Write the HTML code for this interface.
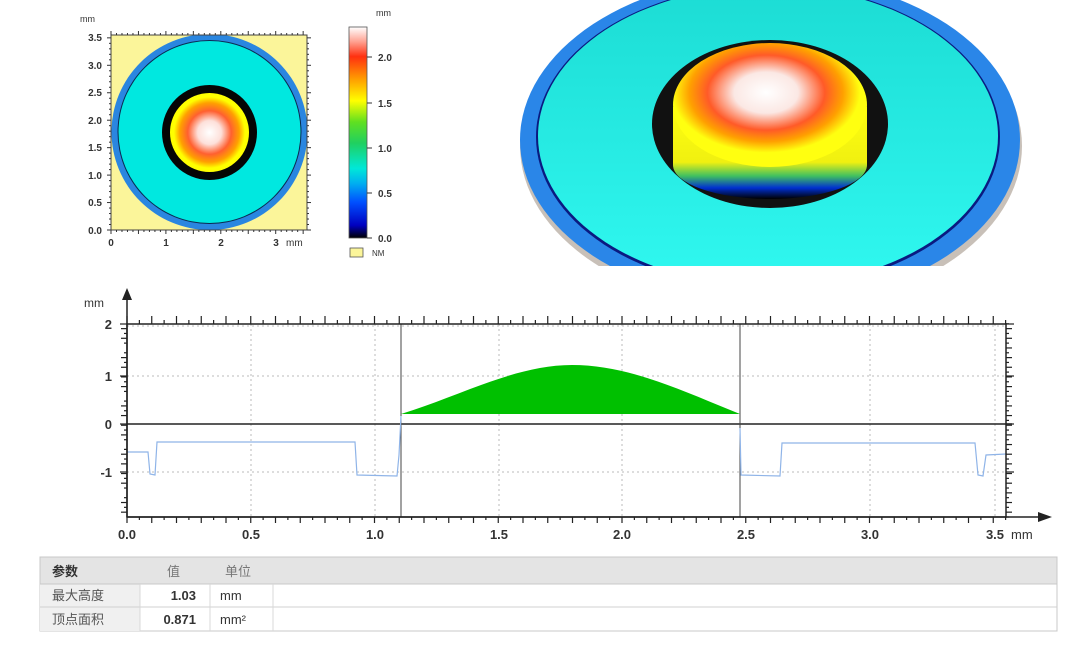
<!DOCTYPE html>
<html><head><meta charset="utf-8"><style>
html,body{margin:0;padding:0;background:#fff;}
body{width:1080px;height:646px;overflow:hidden;position:relative;font-family:"Liberation Sans","Noto Sans CJK SC",sans-serif;}
svg{position:absolute;left:0;top:0;}
</style></head><body>
<svg id="s" width="1080" height="646" xmlns="http://www.w3.org/2000/svg" font-family="Liberation Sans, Noto Sans CJK SC, sans-serif">
<defs>
<linearGradient id="cb" x1="0" y1="1" x2="0" y2="0">
<stop offset="0" stop-color="#000"/>
<stop offset="0.06" stop-color="#0000c0"/>
<stop offset="0.17" stop-color="#0050ff"/>
<stop offset="0.26" stop-color="#00b0f0"/>
<stop offset="0.33" stop-color="#00e8d8"/>
<stop offset="0.45" stop-color="#20d060"/>
<stop offset="0.55" stop-color="#60e020"/>
<stop offset="0.65" stop-color="#ffff00"/>
<stop offset="0.75" stop-color="#ffa000"/>
<stop offset="0.86" stop-color="#ff3010"/>
<stop offset="0.93" stop-color="#ffa090"/>
<stop offset="1" stop-color="#ffffff"/>
</linearGradient>
<radialGradient id="dm" cx="0.5" cy="0.5" r="0.5">
<stop offset="0" stop-color="#fff"/>
<stop offset="0.3" stop-color="#fde0da"/>
<stop offset="0.55" stop-color="#ff6030"/>
<stop offset="0.75" stop-color="#ffa000"/>
<stop offset="0.9" stop-color="#ffff00"/>
<stop offset="1" stop-color="#ffff00"/>
</radialGradient>
<radialGradient id="dm3" cx="0.48" cy="0.4" r="0.55">
<stop offset="0" stop-color="#fff"/>
<stop offset="0.3" stop-color="#fbe8e4"/>
<stop offset="0.55" stop-color="#ff5a28"/>
<stop offset="0.72" stop-color="#ffa000"/>
<stop offset="0.88" stop-color="#ffff10"/>
<stop offset="1" stop-color="#ffff10"/>
</radialGradient>
<linearGradient id="wall" x1="0" y1="0" x2="0" y2="1">
<stop offset="0" stop-color="#ffff10"/>
<stop offset="0.6" stop-color="#f0f010"/>
<stop offset="0.75" stop-color="#40c060"/>
<stop offset="0.88" stop-color="#0030d0"/>
<stop offset="1" stop-color="#000"/>
</linearGradient>
<linearGradient id="cy" x1="0" y1="0" x2="0" y2="1">
<stop offset="0" stop-color="#1cdcd4"/>
<stop offset="1" stop-color="#30f8f0"/>
</linearGradient>
<clipPath id="c3"><rect x="510" y="0" width="540" height="266"/></clipPath>
<clipPath id="cm"><rect x="111" y="35" width="196" height="195"/></clipPath>
</defs>

<rect x="111" y="35" width="196" height="195" fill="#fbf59a"/>
<g clip-path="url(#cm)">
<circle cx="209.5" cy="132" r="98" fill="#2a86e0"/>
<circle cx="209.5" cy="132" r="92" fill="#0a2a50"/>
<circle cx="209.5" cy="132" r="91" fill="#00e8e0"/>
<circle cx="209.5" cy="132.5" r="47.5" fill="#050505"/>
<circle cx="209.5" cy="132.5" r="39.5" fill="url(#dm)"/>
</g>
<rect x="111" y="35" width="196" height="195" fill="none" stroke="#444" stroke-width="1"/>
<g id="mapticks" stroke="#333" stroke-width="1"></g>
<g font-size="10" font-weight="bold" fill="#333">
<text x="80" y="22" font-size="9" font-weight="normal">mm</text>
<text x="102" y="41" text-anchor="end">3.5</text>
<text x="102" y="69" text-anchor="end">3.0</text>
<text x="102" y="96" text-anchor="end">2.5</text>
<text x="102" y="124" text-anchor="end">2.0</text>
<text x="102" y="151" text-anchor="end">1.5</text>
<text x="102" y="179" text-anchor="end">1.0</text>
<text x="102" y="206" text-anchor="end">0.5</text>
<text x="102" y="234" text-anchor="end">0.0</text>
<text x="111" y="246" text-anchor="middle">0</text>
<text x="166" y="246" text-anchor="middle">1</text>
<text x="221" y="246" text-anchor="middle">2</text>
<text x="276" y="246" text-anchor="middle">3</text>
<text x="286" y="246" font-weight="normal">mm</text>
</g>
<rect x="349" y="27" width="18" height="211" fill="url(#cb)" stroke="#555" stroke-width="0.8"/>
<g font-size="10" font-weight="bold" fill="#333">
<text x="376" y="16" font-size="9" font-weight="normal">mm</text>
<text x="378" y="61">2.0</text>
<text x="378" y="107">1.5</text>
<text x="378" y="152">1.0</text>
<text x="378" y="197">0.5</text>
<text x="378" y="242">0.0</text>
</g>
<g stroke="#333"><line x1="367" y1="57" x2="372" y2="57"/><line x1="367" y1="103" x2="372" y2="103"/><line x1="367" y1="148" x2="372" y2="148"/><line x1="367" y1="193" x2="372" y2="193"/><line x1="367" y1="238" x2="372" y2="238"/></g>
<rect x="350" y="248" width="13" height="9" fill="#fbf59a" stroke="#555" stroke-width="0.8"/>
<text x="372" y="256" font-size="8" fill="#333">NM</text>

<g clip-path="url(#c3)">
<ellipse cx="771" cy="146" rx="251" ry="165" fill="#c8c0b8"/>
<ellipse cx="770" cy="140" rx="250" ry="164" fill="#2a86e8"/>
<ellipse cx="768" cy="137" rx="232" ry="152" fill="#0a1a80"/>
<ellipse cx="768" cy="136" rx="230" ry="150" fill="url(#cy)"/>
<ellipse cx="770" cy="124" rx="118" ry="84" fill="#111"/>
<path d="M673,107 L673,165 A97,34 0 0 0 867,165 L867,107 Z" fill="url(#wall)"/>
<ellipse cx="770" cy="105" rx="97" ry="62" fill="url(#dm3)"/>
</g>

<g id="grid" stroke="#bbb" stroke-width="1" stroke-dasharray="2,3"></g>
<path d="M401,414 C460,396 515,365 572,365 C630,365 685,392 740,414 Z" fill="#00c000"/>
<line x1="127" y1="424" x2="1012" y2="424" stroke="#222" stroke-width="1.5"/>
<line x1="401" y1="324" x2="401" y2="517" stroke="#444" stroke-width="1"/>
<line x1="740" y1="324" x2="740" y2="517" stroke="#444" stroke-width="1"/>
<polyline fill="none" stroke="#8fb4e8" stroke-width="1.2" points="127,452 148,452 150,474 155,475 157,442 355,442 357,475 397,476 399,455 401,416"/>
<polyline fill="none" stroke="#8fb4e8" stroke-width="1.2" points="740,428 741,475 780,476 782,443 975,443 978,475 983,476 986,455 1006,454"/>
<rect x="127" y="324" width="879" height="193" fill="none" stroke="#222" stroke-width="1.5"/>
<g id="pticks" stroke="#222" stroke-width="1.2"></g>
<line x1="127" y1="517" x2="127" y2="292" stroke="#222" stroke-width="1.5"/>
<path d="M122,300 L127,288 L132,300 Z" fill="#222"/>
<line x1="127" y1="517" x2="1045" y2="517" stroke="#222" stroke-width="1.5"/>
<path d="M1038,512 L1052,517 L1038,522 Z" fill="#222"/>
<g font-size="13" font-weight="bold" fill="#333">
<text x="84" y="307" font-size="12" font-weight="normal">mm</text>
<text x="112" y="329" text-anchor="end">2</text>
<text x="112" y="381" text-anchor="end">1</text>
<text x="112" y="429" text-anchor="end">0</text>
<text x="112" y="477" text-anchor="end">-1</text>
<text x="127" y="539" text-anchor="middle">0.0</text>
<text x="251" y="539" text-anchor="middle">0.5</text>
<text x="375" y="539" text-anchor="middle">1.0</text>
<text x="499" y="539" text-anchor="middle">1.5</text>
<text x="622" y="539" text-anchor="middle">2.0</text>
<text x="746" y="539" text-anchor="middle">2.5</text>
<text x="870" y="539" text-anchor="middle">3.0</text>
<text x="995" y="539" text-anchor="middle">3.5</text>
<text x="1011" y="539" font-weight="normal">mm</text>
</g>

<rect x="40" y="557" width="1017" height="74" fill="#fff" stroke="#c8c8c8"/>
<rect x="40" y="557" width="1017" height="27" fill="#e4e4e4" stroke="#c8c8c8"/>
<rect x="40" y="584" width="100" height="47" fill="#f0f0f0"/>
<line x1="40" y1="607" x2="1057" y2="607" stroke="#d0d0d0"/>
<line x1="40" y1="584" x2="1057" y2="584" stroke="#c8c8c8"/>
<line x1="140" y1="584" x2="140" y2="631" stroke="#d8d8d8"/>
<line x1="210" y1="584" x2="210" y2="631" stroke="#d8d8d8"/>
<line x1="273" y1="584" x2="273" y2="631" stroke="#d8d8d8"/>
<g font-size="13" fill="#555">
<text x="52" y="576" font-weight="bold" fill="#333">参数</text>
<text x="167" y="576" fill="#777">值</text>
<text x="225" y="576" fill="#777">单位</text>
<text x="52" y="600">最大高度</text>
<text x="52" y="624">顶点面积</text>
<text x="196" y="600" text-anchor="end" font-weight="bold" fill="#333">1.03</text>
<text x="196" y="624" text-anchor="end" font-weight="bold" fill="#333">0.871</text>
<text x="220" y="600" fill="#333">mm</text>
<text x="220" y="624" fill="#333">mm²</text>
</g>
</svg>
<script>
var NS="http://www.w3.org/2000/svg";
function L(g,x1,y1,x2,y2){var l=document.createElementNS(NS,"line");l.setAttribute("x1",x1);l.setAttribute("y1",y1);l.setAttribute("x2",x2);l.setAttribute("y2",y2);g.appendChild(l);}
var g=document.getElementById("grid");
[251,375,499,622,870,995].forEach(function(x){L(g,x,324,x,517);});
[326,376,472].forEach(function(y){L(g,127,y,1006,y);});
var p=document.getElementById("pticks");
var s=247.5;
for(var i=0;i<=75;i++){var x=127+i*0.05*s;if(x>1006)break;var big=i%2==0;
 L(p,x,324,x,324-(big?8:4));
 L(p,x,517,x,517+(big?6:3));}
for(var j=0;j<=40;j++){var y=517-j*4.83;if(y<323)break;var bb=(j%2==1);
 L(p,127,y,127-(j%5==0?0:(bb?6:3)),y);
 L(p,1006,y,1006+(bb?6:3),y);}
[324,376,424,472].forEach(function(y){L(p,120,y,127,y);L(p,1006,y,1014,y);});
var m=document.getElementById("mapticks");
for(var k=0;k<=36;k++){var xx=111+k*5.49;if(xx>307)break;var t=(k%5==0)?4:2;L(m,xx,35,xx,35-t);L(m,xx,230,xx,230+t);}
for(var k=0;k<=36;k++){var yy=230-k*5.49;if(yy<35)break;var t=(k%5==0)?4:2;L(m,111,yy,111-t,yy);L(m,307,yy,307+t,yy);}
</script>
</body></html>
